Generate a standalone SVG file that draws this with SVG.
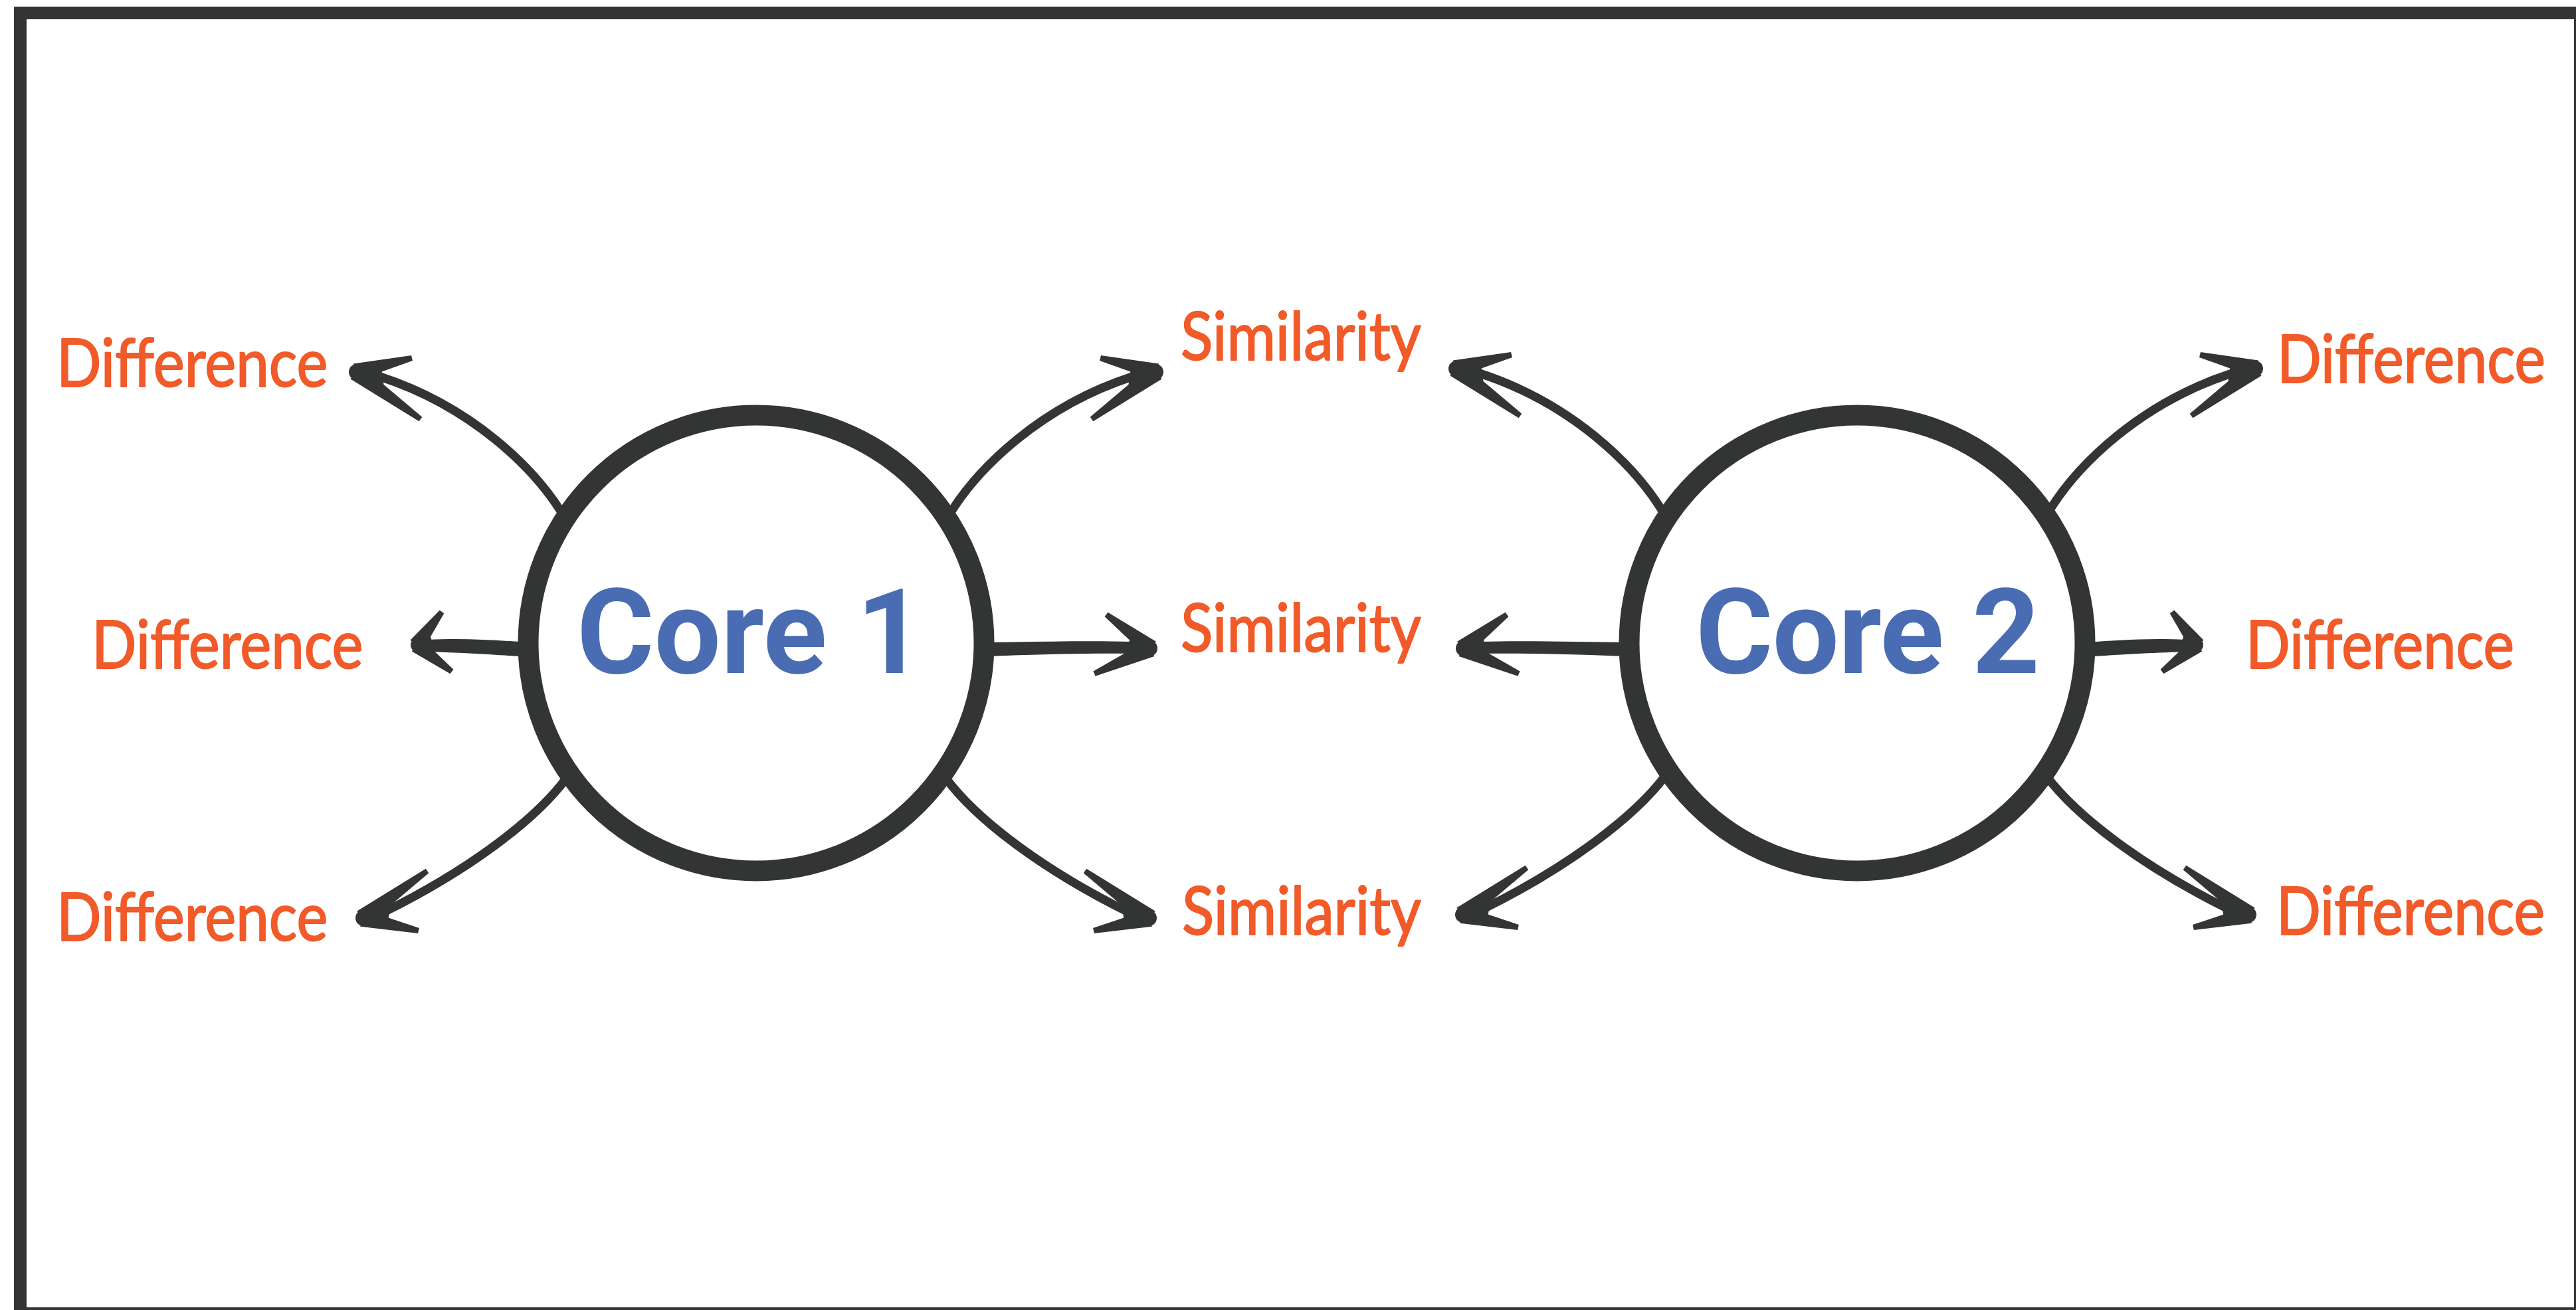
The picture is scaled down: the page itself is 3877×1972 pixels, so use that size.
<svg xmlns="http://www.w3.org/2000/svg" xmlns:xlink="http://www.w3.org/1999/xlink" width="3877" height="1972" viewBox="0 0 3877 1972">
<style>
.bg{fill:#ffffff}
.frame{fill:none;stroke:#333534;stroke-width:19}
.core{fill:#ffffff;stroke:#333534;stroke-width:31}
.core-label{font-family:Roboto,"Liberation Sans",sans-serif;font-weight:700;font-size:178px;fill:#4A6CB3}
.label{font-family:Lato,"Liberation Sans",sans-serif;font-size:100px;fill:#F15A29;stroke:#F15A29;stroke-width:2;stroke-linejoin:round}
.shaft{fill:none;stroke:#333534;stroke-width:13;stroke-linecap:round}
.ink{fill:#333534;stroke:none}
</style>
<defs>
  <g id="arrow-tl">
    <path class="shaft" d="M 848,776 C 805,705 710,612 572,567"/>
    <polygon class="ink" points="538.1,572.6 621.0,542.9 619.0,535.1 531.9,547.4"/>
    <polygon class="ink" points="527.4,570.5 630.7,634.2 635.3,627.8 542.6,549.5"/>
    <polygon class="ink" points="535,560 573.3,550.6 576,568 579.1,592.0"/>
    <circle class="ink" cx="537" cy="560" r="12"/>
  </g>
  <g id="arrow-bl">
    <path class="shaft" d="M 852,1172 C 805,1235 705,1310 578,1373"/>
    <polygon class="ink" points="552.6,1392.5 645.3,1314.2 640.7,1307.8 537.4,1371.5"/>
    <polygon class="ink" points="542.2,1394.7 629.1,1404.9 630.9,1397.1 547.8,1369.3"/>
    <polygon class="ink" points="545,1382 589.1,1350.1 586.1,1373.5 583.3,1390.6"/>
    <circle class="ink" cx="547" cy="1382" r="12"/>
  </g>
  <g id="arrow-short">
    <path class="ink" d="M 795,967 C 750,964 700,960 645,963 L 645,981 C 700,983 740,985 795,989 Z"/>
    <polygon class="ink" points="636.6,978.3 668.2,923.4 661.8,918.6 617.4,963.7"/>
    <polygon class="ink" points="619.8,980.6 677.6,1014.2 682.4,1007.8 634.2,961.4"/>
    <polygon class="ink" points="627,971 644.1,948.5 652,970 650.9,989.0"/>
    <circle class="ink" cx="629" cy="971" r="11"/>
  </g>
  <g id="arrow-long">
    <path class="ink" d="M 1485,967 C 1560,966 1640,964 1705,966 L 1705,984 C 1640,983 1560,985 1485,988 Z"/>
    <polygon class="ink" points="1739.9,965.7 1667.4,921.8 1662.6,928.2 1724.1,986.3"/>
    <polygon class="ink" points="1726.7,964.1 1645.4,1010.4 1648.6,1017.7 1737.3,987.9"/>
    <polygon class="ink" points="1732,976 1701.9,953.1 1698,975 1693.8,993.1"/>
    <circle class="ink" cx="1730" cy="976" r="12"/>
  </g>
</defs>

<rect class="bg" x="0" y="0" width="3877" height="1972"/>
<rect class="frame" x="30.5" y="19.5" width="3853" height="1958"/>

<g id="connectors">
  <use id="c1-to-diff-top" xlink:href="#arrow-tl" href="#arrow-tl"/>
  <use id="c1-to-diff-mid" xlink:href="#arrow-short" href="#arrow-short"/>
  <use id="c1-to-diff-bot" xlink:href="#arrow-bl" href="#arrow-bl"/>
  <use id="c1-to-sim-top" xlink:href="#arrow-tl" href="#arrow-tl" transform="translate(2276,0) scale(-1,1)"/>
  <use id="c1-to-sim-mid" xlink:href="#arrow-long" href="#arrow-long"/>
  <use id="c1-to-sim-bot" xlink:href="#arrow-bl" href="#arrow-bl" transform="translate(2276,0) scale(-1,1)"/>
  <use id="c2-to-sim-top" xlink:href="#arrow-tl" href="#arrow-tl" transform="translate(1655,-5)"/>
  <use id="c2-to-sim-mid" xlink:href="#arrow-long" href="#arrow-long" transform="translate(3933,0) scale(-1,1)"/>
  <use id="c2-to-sim-bot" xlink:href="#arrow-bl" href="#arrow-bl" transform="translate(1655,-5)"/>
  <use id="c2-to-diff-top" xlink:href="#arrow-tl" href="#arrow-tl" transform="translate(3931,-5) scale(-1,1)"/>
  <use id="c2-to-diff-mid" xlink:href="#arrow-short" href="#arrow-short" transform="translate(3934,0) scale(-1,1)"/>
  <use id="c2-to-diff-bot" xlink:href="#arrow-bl" href="#arrow-bl" transform="translate(3931,-5) scale(-1,1)"/>
</g>

<g id="core1">
  <circle class="core" cx="1138" cy="968" r="343"/>
  <text class="core-label" x="868" y="1013" textLength="523">Core 1</text>
</g>
<g id="core2">
  <circle class="core" cx="2795" cy="968" r="343"/>
  <text class="core-label" x="2552" y="1013" textLength="518">Core 2</text>
</g>

<g id="diff-left-top"><text class="label" transform="translate(85,582) scale(0.88,1)" textLength="464" lengthAdjust="spacingAndGlyphs">Difference</text></g>
<g id="diff-left-mid"><text class="label" transform="translate(138,1006) scale(0.88,1)" textLength="464" lengthAdjust="spacingAndGlyphs">Difference</text></g>
<g id="diff-left-bot"><text class="label" transform="translate(85,1416) scale(0.88,1)" textLength="464" lengthAdjust="spacingAndGlyphs">Difference</text></g>
<g id="sim-top"><text class="label" transform="translate(1777,542) scale(0.88,1)" textLength="411" lengthAdjust="spacingAndGlyphs">Similarity</text></g>
<g id="sim-mid"><text class="label" transform="translate(1777,981) scale(0.88,1)" textLength="411" lengthAdjust="spacingAndGlyphs">Similarity</text></g>
<g id="sim-bot"><text class="label" transform="translate(1779,1407) scale(0.88,1)" textLength="409" lengthAdjust="spacingAndGlyphs">Similarity</text></g>
<g id="diff-right-top"><text class="label" transform="translate(3427,576) scale(0.88,1)" textLength="459" lengthAdjust="spacingAndGlyphs">Difference</text></g>
<g id="diff-right-mid"><text class="label" transform="translate(3380,1006) scale(0.88,1)" textLength="459" lengthAdjust="spacingAndGlyphs">Difference</text></g>
<g id="diff-right-bot"><text class="label" transform="translate(3426,1407) scale(0.88,1)" textLength="459" lengthAdjust="spacingAndGlyphs">Difference</text></g>
</svg>
